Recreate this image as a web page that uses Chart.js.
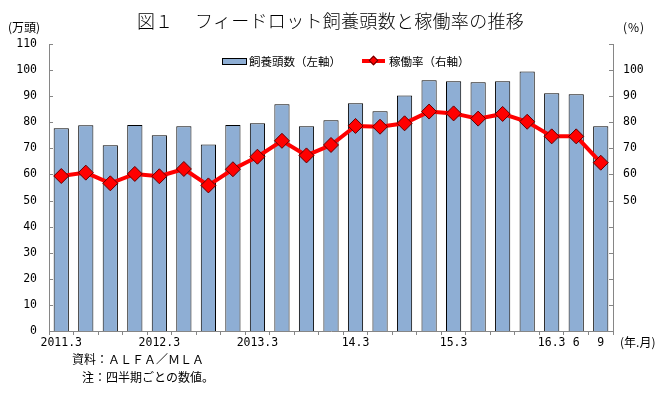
<!DOCTYPE html>
<html>
<head>
<meta charset="utf-8">
<script src="https://cdn.jsdelivr.net/npm/chart.js@4/dist/chart.umd.min.js"></script>
<style>
  body { margin: 0; background: #fff; }
  #wrap { position: relative; width: 664px; height: 393px; font-family: "Noto Sans CJK JP", sans-serif; color: #000; }
  #wrap canvas { position: absolute; left: 0; top: 0; }
  .t { position: absolute; white-space: nowrap; line-height: 16px; font-size: 12px; }
</style>
</head>
<body>
<div id="wrap">
  <canvas id="chart" width="664" height="393"></canvas>
  <div class="t" style="left:137px;top:10px;font-size:18px;line-height:20px;font-weight:300">図１</div>
  <div class="t" style="left:195px;top:10px;font-size:18px;line-height:20px;letter-spacing:0.3px;font-weight:300">フィードロット飼養頭数と稼働率の推移</div>
  <div class="t" style="left:8px;top:19px">(万頭)</div>
  <div class="t" style="left:623px;top:19px;letter-spacing:1px">(%)</div>

  <div style="position:absolute;left:222px;top:58px;width:23px;height:5px;background:#8EAED4;border:1px solid #000"></div>
  <div class="t" style="left:249px;top:53px;font-size:11.5px">飼養頭数（左軸）</div>
  <div style="position:absolute;left:362px;top:59px;width:23px;height:4px;background:#FF0000"></div>
  <div style="position:absolute;left:370px;top:57px;width:5px;height:5px;background:#FF0000;border:1px solid #600000;transform:rotate(45deg)"></div>
  <div class="t" style="left:389px;top:53px;font-size:11.5px">稼働率（右軸）</div>

  <div class="t" style="left:620px;top:334px">(年.月)</div>
  <div class="t" style="left:72px;top:351px">資料：ＡＬＦＡ／ＭＬＡ</div>
  <div class="t" style="left:82px;top:369px">注：四半期ごとの数値。</div>
</div>
<script>
// 2011.3 - 2016.9, quarterly
const labels = ['2011.3', '', '', '', '2012.3', '', '', '', '2013.3', '', '', '', '14.3', '', '', '', '15.3', '', '', '', '16.3', '6', '9'];
// 飼養頭数 (万頭)
const heads = [77.7, 78.9, 71.2, 79.0, 75.0, 78.5, 71.5, 79.0, 79.6, 86.9, 78.5, 80.8, 87.3, 84.2, 90.3, 96.1, 95.7, 95.3, 95.7, 99.5, 91.1, 90.7, 78.5];
// 稼働率 (%)
const rate = [59.4, 60.7, 56.6, 60.2, 59.3, 62.1, 55.8, 62.0, 66.8, 72.9, 67.3, 71.3, 78.6, 78.3, 79.6, 84.1, 83.4, 81.4, 83.2, 80.2, 74.6, 74.6, 64.5];
const rightTicks = [50, 60, 70, 80, 90, 100];

const axisGray = '#868686';
const tickFont = { family: 'DejaVu Sans Mono', size: 11.5 };

// y axis tick marks point inward, like the original
const innerTicks = {
  id: 'innerTicks',
  afterDraw(chart) {
    const ctx = chart.ctx, a = chart.chartArea;
    ctx.save();
    ctx.strokeStyle = axisGray;
    ctx.lineWidth = 1;
    for (let v = 0; v <= 110; v += 10) {
      const yl = Math.round(chart.scales.y.getPixelForValue(v)) + 0.5;
      const yr = Math.round(chart.scales.y2.getPixelForValue(v)) + 0.5;
      ctx.beginPath();
      ctx.moveTo(a.left, yl); ctx.lineTo(a.left + 4, yl);
      ctx.moveTo(a.right, yr); ctx.lineTo(a.right - 4, yr);
      ctx.stroke();
    }
    ctx.restore();
  }
};

new Chart(document.getElementById('chart'), {
  type: 'bar',
  data: {
    labels: labels,
    datasets: [
      {
        type: 'line',
        label: '稼働率（右軸）',
        data: rate,
        yAxisID: 'y2',
        order: 0,
        borderColor: '#FF0000',
        borderWidth: 4,
        tension: 0,
        pointStyle: 'rectRot',
        pointRadius: 7.5,
        pointBackgroundColor: '#FF0000',
        pointBorderColor: '#600000',
        pointBorderWidth: 1
      },
      {
        label: '飼養頭数（左軸）',
        data: heads,
        yAxisID: 'y',
        order: 1,
        backgroundColor: '#8EAED4',
        borderColor: '#000',
        borderWidth: 1,
        categoryPercentage: 1,
        barPercentage: 0.62
      }
    ]
  },
  options: {
    responsive: false,
    animation: false,
    layout: { padding: { top: 44, left: 0, right: 0, bottom: 0 } },
    plugins: { legend: { display: false }, tooltip: { enabled: false } },
    scales: {
      x: {
        offset: true,
        grid: { offset: true, drawOnChartArea: false, color: axisGray, tickLength: 4 },
        border: { color: axisGray },
        ticks: { autoSkip: false, maxRotation: 0, color: '#000', font: tickFont, padding: 1 },
        afterFit(s) { s.height = 62; }
      },
      y: {
        position: 'left',
        min: 0, max: 110,
        grid: { display: false, drawTicks: false },
        border: { color: axisGray },
        ticks: { stepSize: 10, color: '#000', font: tickFont, padding: 12 },
        afterFit(s) { s.width = 49; }
      },
      y2: {
        position: 'right',
        min: 0, max: 110,
        grid: { display: false, drawTicks: false },
        border: { color: axisGray },
        ticks: {
          stepSize: 10, color: '#000', font: tickFont, padding: 10,
          callback: v => rightTicks.includes(v) ? v : ''
        },
        afterFit(s) { s.width = 51; }
      }
    }
  },
  plugins: [innerTicks]
});
</script>
</body>
</html>
